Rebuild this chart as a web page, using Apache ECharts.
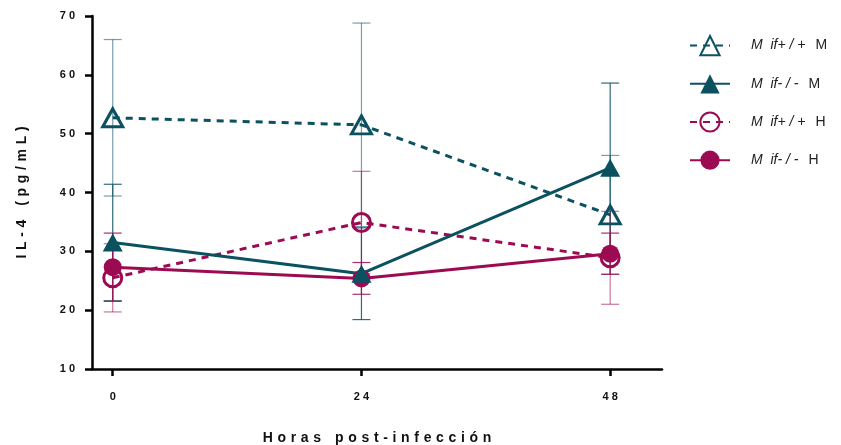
<!DOCTYPE html>
<html>
<head>
<meta charset="utf-8">
<script src="https://cdn.jsdelivr.net/npm/echarts@6/dist/echarts.min.js"></script>
<style>
  html, body { margin: 0; padding: 0; background: #ffffff; }
  #chart { width: 841px; height: 445px; }
</style>
</head>
<body>
<div id="chart"></div>
<script>
// Time points (hours post-infection)
const hours = [0, 24, 48];
const xTickLabels = ['0', '2 4', '4 8'];

// IL-4 means (pg/mL) and error bar half-widths per group
const mifWtM = [52.7, 51.5, 36.2];
const mifWtMErr = [13.3, 17.3, 10.1];
const mifKoM = [31.5, 26.2, 44.2];
const mifKoMErr = [9.9, 7.8, 14.4];
const mifWtH = [25.5, 34.9, 28.9];
const mifWtHErr = [5.8, 8.7, 7.9];
const mifKoH = [27.3, 25.4, 29.6];
const mifKoHErr = [5.8, 2.7, 3.5];

const seriesNames = ['Mif+/+ M', 'Mif-/- M', 'Mif+/+ H', 'Mif-/- H'];

const TEAL = '#0b5160';
const CRIMSON = '#9c0a52';
const SP = '\u2004';

function spaced(s) { return s.split('').join(SP); }
function pairs(vals) { return hours.map((h, i) => [h, vals[i]]); }
function errRows(vals, errs) { return hours.map((h, i) => [h, vals[i] - errs[i], vals[i] + errs[i]]); }

function errorSeries(vals, errs, color) {
  return {
    type: 'custom',
    silent: true,
    z: 1,
    data: errRows(vals, errs),
    renderItem: function (params, api) {
      const x = api.value(0);
      const lo = api.coord([x, api.value(1)]);
      const hi = api.coord([x, api.value(2)]);
      const half = 9;
      const style = { stroke: color, lineWidth: 1.2 };
      return {
        type: 'group',
        children: [
          { type: 'line', shape: { x1: lo[0], y1: lo[1], x2: hi[0], y2: hi[1] }, style: style },
          { type: 'line', shape: { x1: lo[0] - half, y1: lo[1], x2: lo[0] + half, y2: lo[1] }, style: style },
          { type: 'line', shape: { x1: hi[0] - half, y1: hi[1], x2: hi[0] + half, y2: hi[1] }, style: style }
        ]
      };
    }
  };
}

function lineSeries(name, vals, color, dashed, symbol, hollow) {
  return {
    name: name,
    type: 'line',
    z: 3,
    data: pairs(vals),
    symbol: symbol,
    symbolSize: symbol === 'triangle' ? [20, 18] : 18,
    lineStyle: { color: color, width: 3, type: dashed ? [7, 6] : 'solid' },
    itemStyle: hollow
      ? { color: 'rgba(255,255,255,0)', borderColor: color, borderWidth: 3 }
      : { color: color, borderColor: color, borderWidth: 0 },
    emphasis: { disabled: true }
  };
}

function legendLabel(name) {
  const parts = name.split(' ');
  const g = parts[0].slice(3).split('').join(' ');
  return '{i|M  if' + g + '}   {n|' + parts[1] + '}';
}

const chart = echarts.init(document.getElementById('chart'));
chart.setOption({
  animation: false,
  backgroundColor: '#ffffff',
  grid: { left: 92, right: 179, top: 16, bottom: 76, outerBoundsMode: 'none' },
  legend: {
    data: seriesNames,
    orient: 'vertical',
    left: 689,
    top: 35,
    padding: 0,
    itemWidth: 40,
    itemHeight: 24,
    itemGap: 18,
    formatter: legendLabel,
    textStyle: {
      padding: [0, 0, 0, 16],
      rich: {
        i: { fontFamily: 'Liberation Sans', fontStyle: 'italic', fontSize: 14, color: '#222' },
        n: { fontFamily: 'Liberation Sans', fontSize: 14, color: '#222' }
      }
    }
  },
  xAxis: {
    type: 'value',
    min: -2,
    max: 53,
    name: spaced('Horas') + SP + SP + SP + spaced('post-infección'),
    nameLocation: 'middle',
    nameGap: 62,
    nameTextStyle: { fontFamily: 'Liberation Sans', fontWeight: 'bold', fontSize: 14, color: '#111' },
    splitLine: { show: false },
    axisLine: { onZero: false, lineStyle: { color: '#000', width: 2.5 } },
    axisTick: { show: true, customValues: hours, length: 7, lineStyle: { color: '#000', width: 2.5 } },
    axisLabel: {
      customValues: hours,
      margin: 22,
      fontFamily: 'Liberation Sans', fontWeight: 'bold', fontSize: 11, color: '#111',
      formatter: function (v) { return xTickLabels[hours.indexOf(v)]; }
    }
  },
  yAxis: {
    type: 'value',
    min: 10,
    max: 70,
    interval: 10,
    name: spaced('IL-4') + SP + SP + SP + spaced('(pg/mL)'),
    nameLocation: 'middle',
    nameGap: 63,
    nameTextStyle: { fontFamily: 'Liberation Sans', fontWeight: 'bold', fontSize: 14, color: '#111' },
    splitLine: { show: false },
    axisLine: { show: true, onZero: false, lineStyle: { color: '#000', width: 2.5 } },
    axisTick: { show: true, length: 7, lineStyle: { color: '#000', width: 2.5 } },
    axisLabel: {
      margin: 17,
      fontFamily: 'Liberation Sans', fontWeight: 'bold', fontSize: 11, color: '#111',
      formatter: function (v) { return String(v).split('').join(' '); }
    }
  },
  series: [
    errorSeries(mifWtM, mifWtMErr, 'rgba(11,81,96,0.55)'),
    errorSeries(mifKoM, mifKoMErr, 'rgba(11,81,96,0.85)'),
    errorSeries(mifWtH, mifWtHErr, 'rgba(156,10,82,0.55)'),
    errorSeries(mifKoH, mifKoHErr, 'rgba(156,10,82,0.85)'),
    lineSeries(seriesNames[0], mifWtM, TEAL, true, 'triangle', true),
    lineSeries(seriesNames[2], mifWtH, CRIMSON, true, 'circle', true),
    lineSeries(seriesNames[3], mifKoH, CRIMSON, false, 'circle', false),
    lineSeries(seriesNames[1], mifKoM, TEAL, false, 'triangle', false)
  ]
});
</script>
</body>
</html>
